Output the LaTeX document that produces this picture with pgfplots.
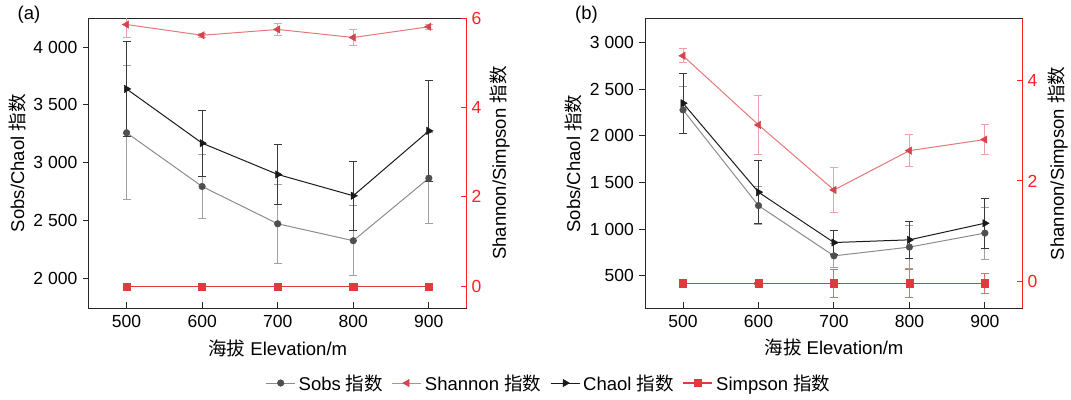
\documentclass[border=0pt]{standalone}
\usepackage{fontspec}
\setmainfont{Liberation Sans}
\newfontfamily\cjk{Noto Sans CJK SC}
\usepackage{pgfplots}
\pgfplotsset{compat=1.18}

\definecolor{sobsline}{HTML}{8C8C8C}
\definecolor{sobsmark}{HTML}{4F4F4F}
\definecolor{sobserr}{HTML}{A0A0A0}
\definecolor{chaol}{HTML}{1A1A1A}
\definecolor{chaolerr}{HTML}{3A3A3A}
\definecolor{shanline}{HTML}{E57878}
\definecolor{shanmark}{HTML}{D6454D}
\definecolor{shanerr}{HTML}{EDA0A6}
\definecolor{simp}{HTML}{E0393E}
\definecolor{simperr}{HTML}{E46A70}
\definecolor{axred}{HTML}{FF2020}

\pgfplotsset{
  base/.style={scale only axis, anchor=south west, xmin=450, xmax=950,
    xtick={500,600,700,800,900}, xticklabels={500,600,700,800,900},
    font=\fontsize{18.5}{22}\selectfont,
    tick label style={font=\fontsize{17.5}{20}\selectfont},
    major tick length=5.5pt, tick align=inside},
  leftax/.style={axis line style={draw=black!85, line width=1pt},
    tick style={draw=black!85, line width=1pt},
    xtick pos=bottom, ytick pos=left,
    ytick style={xshift=-6pt}, major tick length=6pt,
    yticklabel style={xshift=-8pt}, xticklabel style={yshift=-4pt}},
  rightax/.style={axis x line=none, axis y line*=right,
    axis line style={draw=axred, line width=1pt},
    ytick style={draw=axred, line width=1pt},
    yticklabel style={text=axred, xshift=1.5pt}},
  sobs/.style={draw=sobsline, line width=1pt, mark=*, mark size=3.3pt,
    mark options={fill=sobsmark, draw=sobsmark, line width=0.5pt}},
  chaol/.style={draw=chaol, line width=1pt, mark=triangle*, mark size=4.2pt,
    mark options={rotate=-90, fill=chaol, draw=chaol, line width=0.5pt}},
  shan/.style={draw=shanline, line width=1pt, mark=triangle*, mark size=4.2pt,
    mark options={rotate=90, fill=shanmark, draw=shanmark, line width=0.5pt}},
  simp/.style={draw=simp, line width=1.5pt, mark=square*, mark size=3.6pt,
    mark options={fill=simp, draw=simp, line width=0.5pt}},
}

\begin{document}
\begin{tikzpicture}
\path[use as bounding box] (0,0) rectangle (1071pt,399pt);

% ---------------- panel (a), left axis
\begin{axis}[base, leftax, at={(88.8pt,91pt)}, width=377.8pt, height=289.7pt,
  ymin=1747, ymax=4248,
  ytick={2000,2500,3000,3500,4000},
  yticklabels={{2 000},{2 500},{3 000},{3 500},{4 000}},
  ylabel={Sobs/Chaol {\cjk 指数}},
  xlabel={{\cjk 海拔} Elevation/m},
  every axis y label/.style={at={(axis description cs:-0.19,0.5)},rotate=90,anchor=center},
  every axis x label/.style={at={(axis description cs:0.5,-0.138)},anchor=center}]
\addplot[sobs, error bars/.cd, y dir=both, y explicit,
  error bar style={draw=sobserr, line width=1pt},
  error mark options={rotate=90, mark size=4pt, draw=sobserr, line width=1pt}]
  coordinates {(500,3260) +- (0,580) (600,2796) +- (0,280) (700,2474) +- (0,340)
               (800,2328) +- (0,300) (900,2868) +- (0,390)};
\addplot[chaol, error bars/.cd, y dir=both, y explicit,
  error bar style={draw=chaolerr, line width=1pt},
  error mark options={rotate=90, mark size=4pt, draw=chaolerr, line width=1pt}]
  coordinates {(500,3638) +- (0,410) (600,3170) +- (0,285) (700,2900) +- (0,260)
               (800,2716) +- (0,300) (900,3276) +- (0,434)};
\end{axis}

% ---------------- panel (a), right axis
\begin{axis}[base, rightax, at={(88.8pt,91pt)}, width=377.8pt, height=289.7pt,
  ymin=-0.49, ymax=6, ytick={0,2,4,6}, yticklabels={0,2,4,6},
  ylabel={Shannon/Simpson {\cjk 指数}},
  every axis y label/.style={at={(axis description cs:1.0884,0.5)},rotate=90,anchor=center},
  legend columns=4,
  legend image code/.code={\draw[mark repeat=2,mark phase=2,#1] plot coordinates {(0pt,0pt)(14.5pt,0pt)(29pt,0pt)};},
  legend style={at={(axis description cs:1.2194,-0.259)}, anchor=center, draw=none, fill=none,
    font=\fontsize{18.5}{22}\selectfont, inner sep=0pt,
    /tikz/every even column/.append style={column sep=6pt},
    nodes={inner sep=3pt}}]
\addplot[shan, forget plot, error bars/.cd, y dir=both, y explicit,
  error bar style={draw=shanerr, line width=1pt},
  error mark options={rotate=90, mark size=4pt, draw=shanerr, line width=1pt}]
  coordinates {(500,5.86) +- (0,0.28) (600,5.62) +- (0,0.05) (700,5.75) +- (0,0.13)
               (800,5.57) +- (0,0.17) (900,5.81) +- (0,0.05)};
\addplot[simp, forget plot] coordinates {(500,-0.01) (600,-0.01) (700,-0.01) (800,-0.01) (900,-0.01)};
\addlegendimage{sobs}
\addlegendentry{Sobs {\cjk 指数}}
\addlegendimage{shan}
\addlegendentry{Shannon {\cjk 指数}}
\addlegendimage{chaol}
\addlegendentry{Chaol {\cjk 指数}}
\addlegendimage{simp}
\addlegendentry{Simpson {\cjk 指数}}
\end{axis}

% ---------------- panel (b), left axis
\begin{axis}[base, leftax, at={(645.3pt,91pt)}, width=377.3pt, height=289pt,
  ymin=155, ymax=3254,
  ytick={500,1000,1500,2000,2500,3000},
  yticklabels={500,{1 000},{1 500},{2 000},{2 500},{3 000}},
  ylabel={Sobs/Chaol {\cjk 指数}},
  xlabel={{\cjk 海拔} Elevation/m},
  every axis y label/.style={at={(axis description cs:-0.1916,0.5)},rotate=90,anchor=center},
  every axis x label/.style={at={(axis description cs:0.5,-0.138)},anchor=center}]
\addplot[sobs, error bars/.cd, y dir=both, y explicit,
  error bar style={draw=sobserr, line width=1pt},
  error mark options={rotate=90, mark size=4pt, draw=sobserr, line width=1pt}]
  coordinates {(500,2279) +- (0,250) (600,1253) +- (0,200) (700,714) +- (0,130)
               (800,808) +- (0,230) (900,958) +- (0,280)};
\addplot[chaol, error bars/.cd, y dir=both, y explicit,
  error bar style={draw=chaolerr, line width=1pt},
  error mark options={rotate=90, mark size=4pt, draw=chaolerr, line width=1pt}]
  coordinates {(500,2351) +- (0,320) (600,1397) +- (0,340) (700,857) +- (0,130)
               (800,886) +- (0,200) (900,1064) +- (0,270)};
\end{axis}

% ---------------- panel (b), right axis
\begin{axis}[base, rightax, at={(645.3pt,91pt)}, width=377.3pt, height=289pt,
  ymin=-0.52, ymax=5.21, ytick={0,2,4}, yticklabels={0,2,4},
  ylabel={Shannon/Simpson {\cjk 指数}},
  every axis y label/.style={at={(axis description cs:1.0938,0.5)},rotate=90,anchor=center}]
\addplot[shan, error bars/.cd, y dir=both, y explicit,
  error bar style={draw=shanerr, line width=1pt},
  error mark options={rotate=90, mark size=4pt, draw=shanerr, line width=1pt}]
  coordinates {(500,4.48) +- (0,0.14) (600,3.11) +- (0,0.58) (700,1.82) +- (0,0.45)
               (800,2.60) +- (0,0.32) (900,2.82) +- (0,0.30)};
\addplot[simp, error bars/.cd, y dir=both, y explicit,
  error bar style={draw=simperr, line width=1pt},
  error mark options={rotate=90, mark size=4pt, draw=simperr, line width=1pt}]
  coordinates {(500,-0.03) +- (0,0) (600,-0.03) +- (0,0.02) (700,-0.03) +- (0,0.28)
               (800,-0.03) +- (0,0.28) (900,-0.03) +- (0,0.2)};
\end{axis}

% panel letters
\node[font=\fontsize{18.5}{22}\selectfont] at (29pt,384pt) {(a)};
\node[font=\fontsize{18.5}{22}\selectfont] at (586.5pt,384pt) {(b)};
\end{tikzpicture}
\end{document}
